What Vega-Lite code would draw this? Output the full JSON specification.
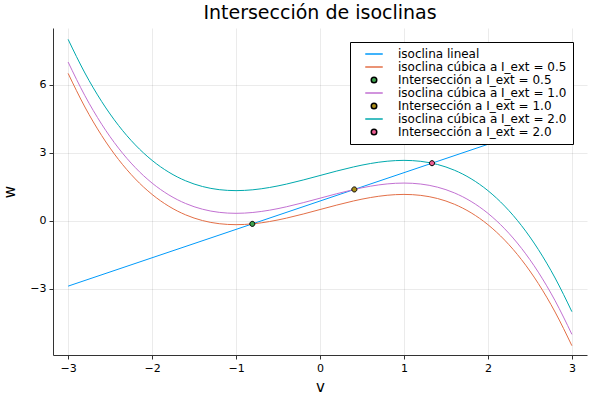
{
  "$schema": "https://vega.github.io/schema/vega-lite/v6.json",
  "width": 534,
  "height": 327,
  "autosize": "none",
  "padding": {"left": 53, "top": 28, "right": 13, "bottom": 45},
  "title": {"text": "Intersección de isoclinas", "fontSize": 19, "font": "DejaVu Sans", "fontWeight": "normal", "offset": 5},
  "config": {
    "font": "DejaVu Sans",
    "view": {"stroke": null},
    "axis": {
      "labelFont": "DejaVu Sans", "labelFontSize": 11, "labelColor": "#000",
      "titleFont": "DejaVu Sans", "titleFontSize": 15, "titleFontWeight": "normal", "titleColor": "#000",
      "grid": true, "gridColor": "#000", "gridOpacity": 0.08,
      "domainColor": "#333", "tickColor": "#333", "tickSize": 4, "labelPadding": 3
    },
    "legend": {
      "orient": "top-right", "offset": 14, "padding": 6,
      "strokeColor": "#000", "fillColor": "#fff",
      "labelFont": "DejaVu Sans", "labelFontSize": 12, "labelColor": "#000", "labelLimit": 400,
      "labelOffset": 18, "symbolOffset": 12, "rowPadding": 1
    }
  },
  "data": {"values": [
    {"v": -3, "w": -2.875, "s": "isoclina lineal"},
    {"v": 3, "w": 4.625, "s": "isoclina lineal"},
    {"v": -3.0, "w": 6.5, "s": "isoclina cúbica a I_ext = 0.5"},
    {"v": -2.8, "w": 5.0173, "s": "isoclina cúbica a I_ext = 0.5"},
    {"v": -2.6, "w": 3.7587, "s": "isoclina cúbica a I_ext = 0.5"},
    {"v": -2.4, "w": 2.708, "s": "isoclina cúbica a I_ext = 0.5"},
    {"v": -2.2, "w": 1.8493, "s": "isoclina cúbica a I_ext = 0.5"},
    {"v": -2.0, "w": 1.1667, "s": "isoclina cúbica a I_ext = 0.5"},
    {"v": -1.8, "w": 0.644, "s": "isoclina cúbica a I_ext = 0.5"},
    {"v": -1.6, "w": 0.2653, "s": "isoclina cúbica a I_ext = 0.5"},
    {"v": -1.4, "w": 0.0147, "s": "isoclina cúbica a I_ext = 0.5"},
    {"v": -1.2, "w": -0.124, "s": "isoclina cúbica a I_ext = 0.5"},
    {"v": -1.0, "w": -0.1667, "s": "isoclina cúbica a I_ext = 0.5"},
    {"v": -0.8, "w": -0.1293, "s": "isoclina cúbica a I_ext = 0.5"},
    {"v": -0.6, "w": -0.028, "s": "isoclina cúbica a I_ext = 0.5"},
    {"v": -0.4, "w": 0.1213, "s": "isoclina cúbica a I_ext = 0.5"},
    {"v": -0.2, "w": 0.3027, "s": "isoclina cúbica a I_ext = 0.5"},
    {"v": 0.0, "w": 0.5, "s": "isoclina cúbica a I_ext = 0.5"},
    {"v": 0.2, "w": 0.6973, "s": "isoclina cúbica a I_ext = 0.5"},
    {"v": 0.4, "w": 0.8787, "s": "isoclina cúbica a I_ext = 0.5"},
    {"v": 0.6, "w": 1.028, "s": "isoclina cúbica a I_ext = 0.5"},
    {"v": 0.8, "w": 1.1293, "s": "isoclina cúbica a I_ext = 0.5"},
    {"v": 1.0, "w": 1.1667, "s": "isoclina cúbica a I_ext = 0.5"},
    {"v": 1.2, "w": 1.124, "s": "isoclina cúbica a I_ext = 0.5"},
    {"v": 1.4, "w": 0.9853, "s": "isoclina cúbica a I_ext = 0.5"},
    {"v": 1.6, "w": 0.7347, "s": "isoclina cúbica a I_ext = 0.5"},
    {"v": 1.8, "w": 0.356, "s": "isoclina cúbica a I_ext = 0.5"},
    {"v": 2.0, "w": -0.1667, "s": "isoclina cúbica a I_ext = 0.5"},
    {"v": 2.2, "w": -0.8493, "s": "isoclina cúbica a I_ext = 0.5"},
    {"v": 2.4, "w": -1.708, "s": "isoclina cúbica a I_ext = 0.5"},
    {"v": 2.6, "w": -2.7587, "s": "isoclina cúbica a I_ext = 0.5"},
    {"v": 2.8, "w": -4.0173, "s": "isoclina cúbica a I_ext = 0.5"},
    {"v": 3.0, "w": -5.5, "s": "isoclina cúbica a I_ext = 0.5"},
    {"v": -0.806, "w": -0.1325, "s": "Intersección a I_ext = 0.5"},
    {"v": -3.0, "w": 7.0, "s": "isoclina cúbica a I_ext = 1.0"},
    {"v": -2.8, "w": 5.5173, "s": "isoclina cúbica a I_ext = 1.0"},
    {"v": -2.6, "w": 4.2587, "s": "isoclina cúbica a I_ext = 1.0"},
    {"v": -2.4, "w": 3.208, "s": "isoclina cúbica a I_ext = 1.0"},
    {"v": -2.2, "w": 2.3493, "s": "isoclina cúbica a I_ext = 1.0"},
    {"v": -2.0, "w": 1.6667, "s": "isoclina cúbica a I_ext = 1.0"},
    {"v": -1.8, "w": 1.144, "s": "isoclina cúbica a I_ext = 1.0"},
    {"v": -1.6, "w": 0.7653, "s": "isoclina cúbica a I_ext = 1.0"},
    {"v": -1.4, "w": 0.5147, "s": "isoclina cúbica a I_ext = 1.0"},
    {"v": -1.2, "w": 0.376, "s": "isoclina cúbica a I_ext = 1.0"},
    {"v": -1.0, "w": 0.3333, "s": "isoclina cúbica a I_ext = 1.0"},
    {"v": -0.8, "w": 0.3707, "s": "isoclina cúbica a I_ext = 1.0"},
    {"v": -0.6, "w": 0.472, "s": "isoclina cúbica a I_ext = 1.0"},
    {"v": -0.4, "w": 0.6213, "s": "isoclina cúbica a I_ext = 1.0"},
    {"v": -0.2, "w": 0.8027, "s": "isoclina cúbica a I_ext = 1.0"},
    {"v": 0.0, "w": 1.0, "s": "isoclina cúbica a I_ext = 1.0"},
    {"v": 0.2, "w": 1.1973, "s": "isoclina cúbica a I_ext = 1.0"},
    {"v": 0.4, "w": 1.3787, "s": "isoclina cúbica a I_ext = 1.0"},
    {"v": 0.6, "w": 1.528, "s": "isoclina cúbica a I_ext = 1.0"},
    {"v": 0.8, "w": 1.6293, "s": "isoclina cúbica a I_ext = 1.0"},
    {"v": 1.0, "w": 1.6667, "s": "isoclina cúbica a I_ext = 1.0"},
    {"v": 1.2, "w": 1.624, "s": "isoclina cúbica a I_ext = 1.0"},
    {"v": 1.4, "w": 1.4853, "s": "isoclina cúbica a I_ext = 1.0"},
    {"v": 1.6, "w": 1.2347, "s": "isoclina cúbica a I_ext = 1.0"},
    {"v": 1.8, "w": 0.856, "s": "isoclina cúbica a I_ext = 1.0"},
    {"v": 2.0, "w": 0.3333, "s": "isoclina cúbica a I_ext = 1.0"},
    {"v": 2.2, "w": -0.3493, "s": "isoclina cúbica a I_ext = 1.0"},
    {"v": 2.4, "w": -1.208, "s": "isoclina cúbica a I_ext = 1.0"},
    {"v": 2.6, "w": -2.2587, "s": "isoclina cúbica a I_ext = 1.0"},
    {"v": 2.8, "w": -3.5173, "s": "isoclina cúbica a I_ext = 1.0"},
    {"v": 3.0, "w": -5.0, "s": "isoclina cúbica a I_ext = 1.0"},
    {"v": 0.409, "w": 1.386, "s": "Intersección a I_ext = 1.0"},
    {"v": -3.0, "w": 8.0, "s": "isoclina cúbica a I_ext = 2.0"},
    {"v": -2.8, "w": 6.5173, "s": "isoclina cúbica a I_ext = 2.0"},
    {"v": -2.6, "w": 5.2587, "s": "isoclina cúbica a I_ext = 2.0"},
    {"v": -2.4, "w": 4.208, "s": "isoclina cúbica a I_ext = 2.0"},
    {"v": -2.2, "w": 3.3493, "s": "isoclina cúbica a I_ext = 2.0"},
    {"v": -2.0, "w": 2.6667, "s": "isoclina cúbica a I_ext = 2.0"},
    {"v": -1.8, "w": 2.144, "s": "isoclina cúbica a I_ext = 2.0"},
    {"v": -1.6, "w": 1.7653, "s": "isoclina cúbica a I_ext = 2.0"},
    {"v": -1.4, "w": 1.5147, "s": "isoclina cúbica a I_ext = 2.0"},
    {"v": -1.2, "w": 1.376, "s": "isoclina cúbica a I_ext = 2.0"},
    {"v": -1.0, "w": 1.3333, "s": "isoclina cúbica a I_ext = 2.0"},
    {"v": -0.8, "w": 1.3707, "s": "isoclina cúbica a I_ext = 2.0"},
    {"v": -0.6, "w": 1.472, "s": "isoclina cúbica a I_ext = 2.0"},
    {"v": -0.4, "w": 1.6213, "s": "isoclina cúbica a I_ext = 2.0"},
    {"v": -0.2, "w": 1.8027, "s": "isoclina cúbica a I_ext = 2.0"},
    {"v": 0.0, "w": 2.0, "s": "isoclina cúbica a I_ext = 2.0"},
    {"v": 0.2, "w": 2.1973, "s": "isoclina cúbica a I_ext = 2.0"},
    {"v": 0.4, "w": 2.3787, "s": "isoclina cúbica a I_ext = 2.0"},
    {"v": 0.6, "w": 2.528, "s": "isoclina cúbica a I_ext = 2.0"},
    {"v": 0.8, "w": 2.6293, "s": "isoclina cúbica a I_ext = 2.0"},
    {"v": 1.0, "w": 2.6667, "s": "isoclina cúbica a I_ext = 2.0"},
    {"v": 1.2, "w": 2.624, "s": "isoclina cúbica a I_ext = 2.0"},
    {"v": 1.4, "w": 2.4853, "s": "isoclina cúbica a I_ext = 2.0"},
    {"v": 1.6, "w": 2.2347, "s": "isoclina cúbica a I_ext = 2.0"},
    {"v": 1.8, "w": 1.856, "s": "isoclina cúbica a I_ext = 2.0"},
    {"v": 2.0, "w": 1.3333, "s": "isoclina cúbica a I_ext = 2.0"},
    {"v": 2.2, "w": 0.6507, "s": "isoclina cúbica a I_ext = 2.0"},
    {"v": 2.4, "w": -0.208, "s": "isoclina cúbica a I_ext = 2.0"},
    {"v": 2.6, "w": -1.2587, "s": "isoclina cúbica a I_ext = 2.0"},
    {"v": 2.8, "w": -2.5173, "s": "isoclina cúbica a I_ext = 2.0"},
    {"v": 3.0, "w": -4.0, "s": "isoclina cúbica a I_ext = 2.0"},
    {"v": 1.334, "w": 2.5425, "s": "Intersección a I_ext = 2.0"}
  ]},
  "encoding": {
    "x": {"field": "v", "type": "quantitative", "title": "v",
      "scale": {"domain": [-3.18, 3.18], "nice": false, "zero": false},
      "axis": {"values": [-3, -2, -1, 0, 1, 2, 3], "titlePadding": 6}},
    "y": {"field": "w", "type": "quantitative", "title": "w",
      "scale": {"domain": [-5.91, 8.5], "nice": false, "zero": false},
      "axis": {"values": [-3, 0, 3, 6], "titleAngle": 270, "titlePadding": 12}},
    "stroke": {"field": "s", "type": "nominal", "title": null,
      "scale": {
        "domain": ["isoclina lineal", "isoclina cúbica a I_ext = 0.5", "Intersección a I_ext = 0.5", "isoclina cúbica a I_ext = 1.0", "Intersección a I_ext = 1.0", "isoclina cúbica a I_ext = 2.0", "Intersección a I_ext = 2.0"],
        "range": ["#009AFA", "#E36F47", "#000000", "#C271D2", "#000000", "#00A9AD", "#000000"]
      }
    }
  },
  "layer": [
    {
      "transform": [{"filter": "indexof(datum.s, 'Intersec') != 0"}],
      "mark": {"type": "line", "interpolate": "monotone", "strokeWidth": 1}
    },
    {
      "transform": [{"filter": "indexof(datum.s, 'Intersec') == 0"}],
      "mark": {"type": "point", "filled": true, "size": 85, "strokeWidth": 1, "opacity": 1},
      "encoding": {
        "fill": {"field": "s", "type": "nominal", "title": null,
          "scale": {
            "domain": ["isoclina lineal", "isoclina cúbica a I_ext = 0.5", "Intersección a I_ext = 0.5", "isoclina cúbica a I_ext = 1.0", "Intersección a I_ext = 1.0", "isoclina cúbica a I_ext = 2.0", "Intersección a I_ext = 2.0"],
            "range": ["#009AFA", "#E36F47", "#3EA44E", "#C271D2", "#AC8E18", "#00A9AD", "#ED5E93"]
          }
        },
        "shape": {"field": "s", "type": "nominal", "title": null,
          "scale": {
            "domain": ["isoclina lineal", "isoclina cúbica a I_ext = 0.5", "Intersección a I_ext = 0.5", "isoclina cúbica a I_ext = 1.0", "Intersección a I_ext = 1.0", "isoclina cúbica a I_ext = 2.0", "Intersección a I_ext = 2.0"],
            "range": ["M-1.75,0H1.75", "M-1.75,0H1.75", "M-0.55,0A0.55,0.55 0 1,0 0.55,0A0.55,0.55 0 1,0 -0.55,0Z", "M-1.75,0H1.75", "M-0.55,0A0.55,0.55 0 1,0 0.55,0A0.55,0.55 0 1,0 -0.55,0Z", "M-1.75,0H1.75", "M-0.55,0A0.55,0.55 0 1,0 0.55,0A0.55,0.55 0 1,0 -0.55,0Z"]
          }
        }
      }
    }
  ]
}
